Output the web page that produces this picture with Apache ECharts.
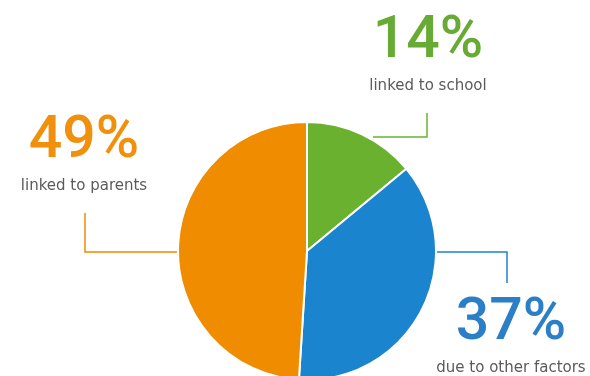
<!DOCTYPE html>
<html>
<head>
<meta charset="utf-8">
<script src="https://cdn.jsdelivr.net/npm/echarts@6/dist/echarts.min.js"></script>
<style>html,body{margin:0;padding:0;background:#fff}#c{width:590px;height:376px}</style>
</head>
<body>
<div id="c"></div>
<script>
const categories = ['linked to school', 'due to other factors', 'linked to parents'];
const values = [14, 37, 49];
const colors = ['#6bb130', '#1a84cf', '#f08c00'];
const textColors = ['#67ab34', '#2a7fc6', '#f0900c'];

const CX = 307, CY = 251, R = 129;
// label placement (center x, top y) and leader line (start, elbow, end)
const labelPos = [
  {x: 428, y: 10,  start: [373, 137], elbow: [427, 137], end: [427, 113]},
  {x: 511, y: 292, start: [436, 252], elbow: [507, 252], end: [507, 283]},
  {x: 84,  y: 110, start: [179, 252], elbow: [85, 252],  end: [85, 213]}
];

const chart = echarts.init(document.getElementById('c'), null, {renderer: 'canvas'});
chart.setOption({
  animation: false,
  series: [{
    type: 'pie',
    center: [CX, CY],
    radius: [0, R],
    startAngle: 90,
    clockwise: true,
    avoidLabelOverlap: false,
    itemStyle: {borderColor: '#ffffff', borderWidth: 2},
    data: categories.map((c, i) => ({
      name: c, value: values[i],
      itemStyle: {color: colors[i]},
      label: {
        rich: {
          pct: {fontFamily: 'Roboto', fontWeight: 500, fontSize: 59, lineHeight: 64, color: textColors[i], align: 'center'},
          sub: {fontFamily: 'DejaVu Sans', fontSize: 15, lineHeight: 24, color: '#5a5a5a', align: 'center'}
        }
      },
      labelLine: {lineStyle: {color: colors[i], width: 1.5}}
    })),
    label: {
      show: true,
      position: 'outside',
      formatter: p => '{pct|' + p.value + '%}\n{sub|' + p.name + '}'
    },
    labelLine: {show: true, length: 10, length2: 10, smooth: false},
    labelLayout: function (params) {
      const lp = labelPos[params.dataIndex];
      return {
        x: lp.x, y: lp.y, align: 'center', verticalAlign: 'top',
        labelLinePoints: [lp.start, lp.elbow, lp.end]
      };
    }
  }]
});
</script>
</body>
</html>
